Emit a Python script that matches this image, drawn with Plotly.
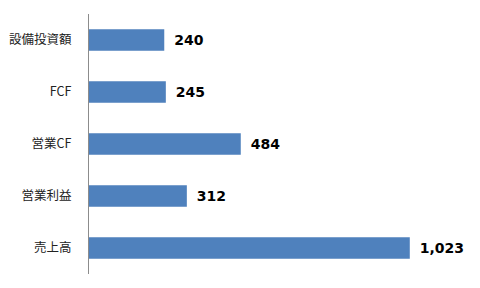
import plotly.graph_objects as go

categories = ["設備投資額", "FCF", "営業CF", "営業利益", "売上高"]
values = [240, 245, 484, 312, 1023]
bar_color = "#4F81BD"

fig = go.Figure(
    go.Bar(
        x=values,
        y=categories,
        orientation="h",
        marker=dict(color=bar_color, line=dict(width=0)),
        texttemplate="\u2002<b>%{x:,}</b>",
        textposition="outside",
        textfont=dict(family="DejaVu Sans", size=14, color="#000000"),
        cliponaxis=False,
    )
)

fig.update_layout(
    width=480,
    height=288,
    margin=dict(l=89, r=10, t=14, b=14),
    paper_bgcolor="white",
    plot_bgcolor="white",
    bargap=0.59,
    showlegend=False,
    font=dict(family="Noto Sans CJK JP, sans-serif", size=12, color="#222222"),
    xaxis=dict(
        range=[0, 1215],
        visible=False,
        showgrid=False,
        zeroline=False,
    ),
    yaxis=dict(
        autorange="reversed",
        showline=True,
        linecolor="#8c8c8c",
        linewidth=1,
        showgrid=False,
        zeroline=False,
        ticks="",
        ticklabelstandoff=14,
        tickfont=dict(family="Noto Sans CJK JP, sans-serif", size=12.5, color="#222222"),
    ),
)

fig.write_html("out.html")
